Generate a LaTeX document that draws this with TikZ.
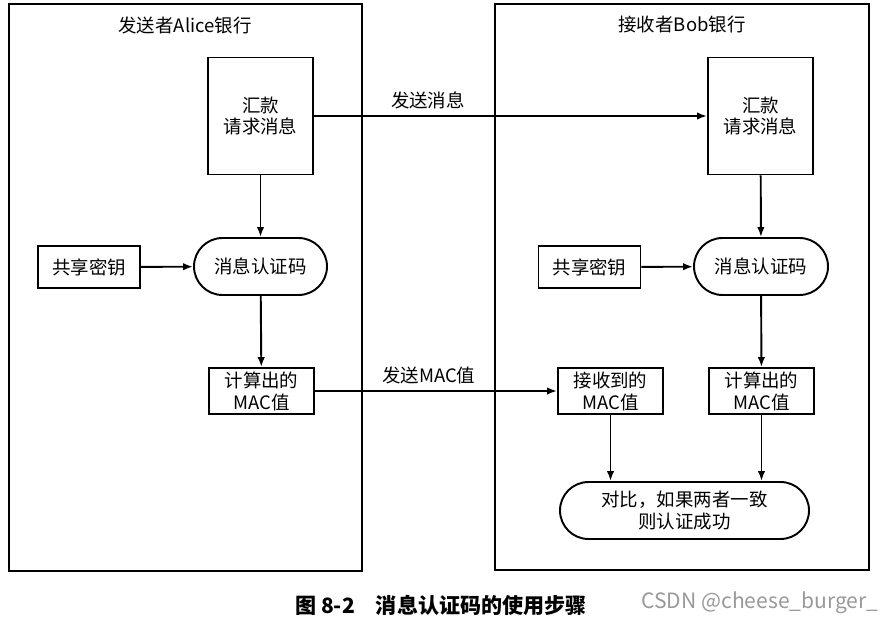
\documentclass[tikz,border=0pt]{standalone}
\usepackage{fontspec}
\setmainfont{Noto Sans CJK SC}
\usetikzlibrary{calc, arrows.meta}

\begin{document}
\begin{tikzpicture}[x=0.2mm, y=-0.2mm, line width=1.1pt, >={Latex[length=2mm, width=1.5mm]},
		font=\fontsize{10.5}{12.5}\selectfont,
		msgbox/.style={draw, align=center, minimum width=21mm, minimum height=23.4mm},
		keybox/.style={draw, align=center, minimum width=20.4mm, minimum height=8.4mm},
		macbox/.style={draw, align=center, minimum width=21mm, minimum height=9.2mm, inner sep=1pt},
		proc/.style={draw, align=center, rounded corners=5.7mm, minimum height=11.4mm}]
		\useasboundingbox (0,0) rectangle (882,622);
		
		% two banks
		\draw (9,4) rectangle (362,571);
		\draw (495,4) rectangle (869,570);
		\node (alice) at (185,25) {发送者Alice银行};
		\node (bob) at (682,25) {接收者Bob银行};
		
		% sender side
		\node [msgbox] (msgA) at (260.5,116) {汇款\\请求消息};
		\node [proc, minimum width=26.6mm] (macA) at (260.5,266.5) {消息认证码};
		\node [keybox] (keyA) at (89,267) {共享密钥};
		\node [macbox] (calcA) at (261.5,391) {计算出的\\MAC值};
		
		% receiver side
		\node [msgbox] (msgB) at (760.5,116) {汇款\\请求消息};
		\node [proc, minimum width=26.8mm] (macB) at (761,266.5) {消息认证码};
		\node [keybox] (keyB) at (589.5,267) {共享密钥};
		\node [macbox] (calcB) at (761.5,391) {计算出的\\MAC值};
		\node [macbox] (recvB) at (610.5,391) {接收到的\\MAC值};
		\node [proc, minimum width=49.8mm] (cmp) at (684.5,510.5) {对比，如果两者一致\\则认证成功};
		
		\draw [->] (msgA) -- (macA);
		\draw [->] (keyA) -- (macA);
		\draw [->] (macA) -- (calcA);
		\draw [->] (msgB) -- (macB);
		\draw [->] (keyB) -- (macB);
		\draw [->] (macB) -- (calcB);
		\draw [->] (recvB.south) -- (recvB.south |- cmp.north);
		\draw [->] (calcB.south) -- (calcB.south |- cmp.north);
		
		\draw [->] (msgA) -- node [above, pos=0.29] {发送消息} (msgB);
		\draw [->] (calcA) -- node [above, pos=0.47] {发送MAC值} (recvB);
		
		% caption
		\node [font=\fontsize{12}{14}\bfseries\selectfont] (cap) at (441,605) {图 8-2\quad 消息认证码的使用步骤};
		\node [text=black!40, font=\fontsize{12}{14}\selectfont] (mark) at (760,603) {CSDN @cheese\_burger\_};
	\end{tikzpicture}
\end{document}
